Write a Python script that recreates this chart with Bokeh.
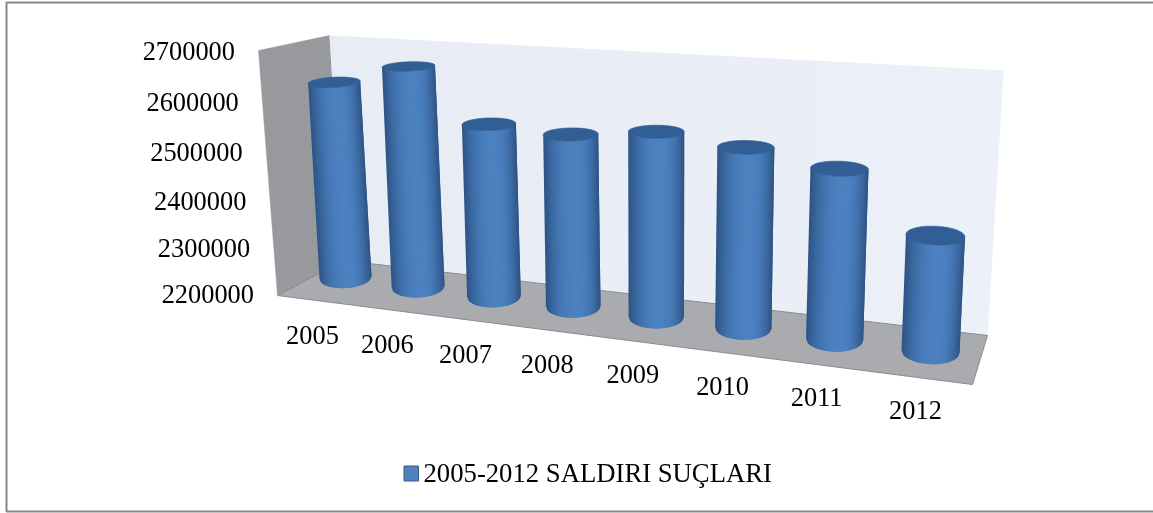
from bokeh.plotting import figure
from bokeh.embed import file_html
from bokeh.resources import INLINE
from bokeh.core.properties import value
import math

years = ["2005", "2006", "2007", "2008", "2009", "2010", "2011", "2012"]
assaults = [2611000, 2654000, 2547000, 2539000, 2557000, 2540000, 2514000, 2408000]
y_ticks = [2200000, 2300000, 2400000, 2500000, 2600000, 2700000]
series_name = "2005-2012 SALDIRI SUÇLARI"

Y_MIN, Y_MAX = 2200000, 2700000
FONT = value("Liberation Serif")
FS = "26.4px"

p = figure(width=1153, height=513, x_range=(0, 1153), y_range=(513, 0),
           output_backend="svg", toolbar_location=None, min_border=0,
           outline_line_color=None, background_fill_color="white",
           styles={"position": "fixed", "left": "0px", "top": "0px"})
p.axis.visible = False
p.grid.visible = False

# chart frame (its right side lies beyond the picture)
p.line([1153, 6, 6, 1153], [2, 2, 511, 511], line_color="#868686", line_width=2)

# 3D box corners in screen space
FLB, FLT = (277, 295), (258, 50)
BLB, BLT = (343, 260), (329, 35)
BRB, BRT = (987, 335), (1003, 70)
FRB = (972, 384)

def lerp(a, b, t):
    return a + (b - a) * t

def persp(t, a, b, w=0.85):
    return (a * (1 - t) + b * w * t) / ((1 - t) + w * t)

def hex2(c):
    return tuple(int(c[i:i + 2], 16) for i in (1, 3, 5))

def mix(c0, c1, f):
    a, b = hex2(c0), hex2(c1)
    return "#%02x%02x%02x" % tuple(int(round(lerp(a[i], b[i], f))) for i in range(3))

# left wall
p.patch([FLT[0], BLT[0], BLB[0], FLB[0]], [FLT[1], BLT[1], BLB[1], FLB[1]],
        fill_color="#98999c", line_color="#98999c", line_width=0.5)
# back wall, in overlapping strips for its soft gradient
N = 40
xs, ys, cs = [], [], []
for k in range(N):
    a, b = k / N, min(1, (k + 2) / N)
    xs.append([lerp(BLT[0], BRT[0], a), lerp(BLT[0], BRT[0], b), lerp(BLB[0], BRB[0], b), lerp(BLB[0], BRB[0], a)])
    ys.append([lerp(BLT[1], BRT[1], a), lerp(BLT[1], BRT[1], b), lerp(BLB[1], BRB[1], b), lerp(BLB[1], BRB[1], a)])
    cs.append(mix("#e7ecf5", "#ecf0f8", a))
p.patches(xs, ys, fill_color=cs, line_color=None)
# floor
p.patch([FLB[0], BLB[0], BRB[0], FRB[0]], [FLB[1], BLB[1], BRB[1], FRB[1]],
        fill_color="#aaabae", line_color="#8a8b8e", line_width=1)

def height_at(x):
    return 235 + (x - 310) * (282 - 235) / 670

def shade(u, u0=0.15):
    d = (u - u0) / (1 - u0 if u > u0 else 1 + u0)
    f = 1 - abs(d) ** 2.2
    return mix("#2c5384", "#4c81c1", max(0, f))

def ry_at(y):
    return 4.5 + (y - 60) * 0.028

n = len(years)
M = 48
sx, sy, sc = [], [], []
tops = []
for i, v in enumerate(assaults):
    t = i / (n - 1)
    bx = persp(t, 345, 930)
    by = 277 + (bx - 345) * 0.1265
    frac = (v - Y_MIN) / (Y_MAX - Y_MIN)
    ty = by - frac * height_at(bx)
    tx = bx + frac * (bx - 658) * 0.044
    rb = 26 + 3 * t
    rt = 26 + 3.5 * t
    ryb, ryt = ry_at(by), ry_at(ty)
    tilt = (bx - 658) * 0.00016
    for k in range(M):
        u0 = -1 + 2 * k / M
        u1 = min(1, -1 + 2 * (k + 2) / M)
        um = -1 + (2 * k + 1) / M
        sx.append([tx + rt * u0, tx + rt * u1, bx + rb * u1, bx + rb * u0])
        sy.append([ty + rt * u0 * tilt + ryt * math.sqrt(max(0, 1 - u0 ** 2)),
                   ty + rt * u1 * tilt + ryt * math.sqrt(max(0, 1 - u1 ** 2)),
                   by + rb * u1 * tilt + ryb * math.sqrt(max(0, 1 - u1 ** 2)),
                   by + rb * u0 * tilt + ryb * math.sqrt(max(0, 1 - u0 ** 2))])
        sc.append(shade(um))
    ax, ay = [], []
    for k in range(60):
        a = 2 * math.pi * k / 60
        dx = rt * math.cos(a)
        ax.append(tx + dx)
        ay.append(ty + dx * tilt + ryt * math.sin(a))
    tops.append((ax, ay))
p.patches(sx, sy, fill_color=sc, line_color=None)
p.patches([a for a, _ in tops], [b for _, b in tops], fill_color="#305e95", line_color="#2c5a8f", line_width=0.6)

# value-axis labels, along the front edge of the side wall
lx, ly = [], []
for tv in y_ticks:
    f = (tv - Y_MIN) / (Y_MAX - Y_MIN)
    lx.append(lerp(FLB[0], FLT[0], f) - 23.5)
    ly.append(persp(f, 293, 50.5, 0.93))
p.text(lx, ly, text=[str(v) for v in y_ticks], text_font=FONT, text_font_size=FS,
       text_align="right", text_baseline="middle", text_color="#000000")

# category labels, along the front edge of the floor
cx, cy = [], []
for i in range(n):
    x = persp(i / (n - 1), 312, 915)
    cx.append(x)
    cy.append(334 + (x - 312) * 0.1244)
p.text(cx, cy, text=years, text_font=FONT, text_font_size=FS,
       text_align="center", text_baseline="middle", text_color="#000000")

# legend
p.quad(left=[403.5], right=[418], top=[465.5], bottom=[480.5], fill_color="#4f81bd", line_color="#385d8a", line_width=1)
p.text([423], [472.5], text=[series_name], text_font=FONT, text_font_size="26.7px",
       text_align="left", text_baseline="middle", text_color="#000000")

open("out.html", "w").write(file_html(p, INLINE))
